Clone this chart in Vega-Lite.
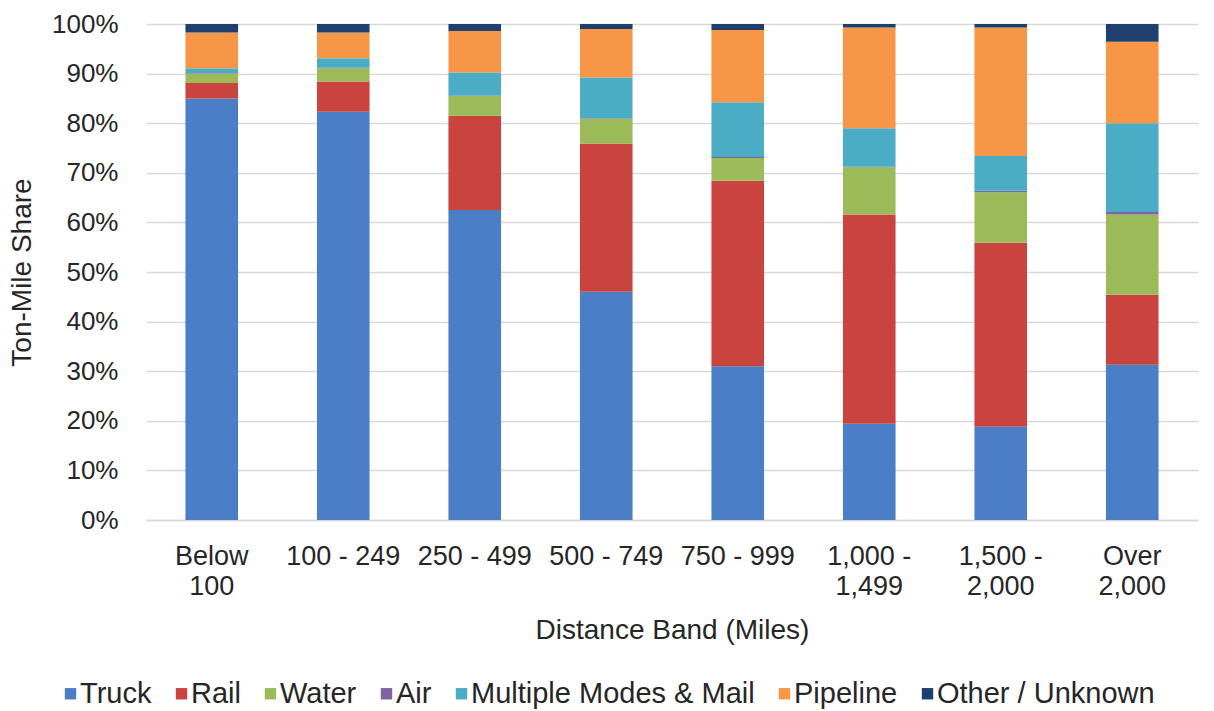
{
  "$schema": "https://vega.github.io/schema/vega-lite/v6.json",
  "autosize": "none",
  "width": 1052,
  "height": 496,
  "padding": {"left": 146, "top": 24, "right": 16, "bottom": 191},
  "background": "white",
  "config": {
    "view": {"stroke": null},
    "font": "Liberation Sans",
    "axis": {"labelColor": "#262626", "titleColor": "#262626", "labelFont": "Liberation Sans", "titleFont": "Liberation Sans", "titleFontWeight": "normal"},
    "legend": {"labelColor": "#262626", "labelFont": "Liberation Sans"}
  },
  "data": {
    "values": [
      {"band": "Below 100", "mode": "Truck", "share": 85.0},
      {"band": "Below 100", "mode": "Rail", "share": 3.1},
      {"band": "Below 100", "mode": "Water", "share": 1.9},
      {"band": "Below 100", "mode": "Air", "share": 0.1},
      {"band": "Below 100", "mode": "Multiple Modes & Mail", "share": 1.0},
      {"band": "Below 100", "mode": "Pipeline", "share": 7.2},
      {"band": "Below 100", "mode": "Other / Unknown", "share": 1.7},
      {"band": "100 - 249", "mode": "Truck", "share": 82.3},
      {"band": "100 - 249", "mode": "Rail", "share": 6.1},
      {"band": "100 - 249", "mode": "Water", "share": 2.7},
      {"band": "100 - 249", "mode": "Air", "share": 0.1},
      {"band": "100 - 249", "mode": "Multiple Modes & Mail", "share": 1.9},
      {"band": "100 - 249", "mode": "Pipeline", "share": 5.2},
      {"band": "100 - 249", "mode": "Other / Unknown", "share": 1.7},
      {"band": "250 - 499", "mode": "Truck", "share": 62.5},
      {"band": "250 - 499", "mode": "Rail", "share": 19.0},
      {"band": "250 - 499", "mode": "Water", "share": 4.0},
      {"band": "250 - 499", "mode": "Air", "share": 0.1},
      {"band": "250 - 499", "mode": "Multiple Modes & Mail", "share": 4.6},
      {"band": "250 - 499", "mode": "Pipeline", "share": 8.4},
      {"band": "250 - 499", "mode": "Other / Unknown", "share": 1.4},
      {"band": "500 - 749", "mode": "Truck", "share": 46.0},
      {"band": "500 - 749", "mode": "Rail", "share": 29.9},
      {"band": "500 - 749", "mode": "Water", "share": 5.0},
      {"band": "500 - 749", "mode": "Air", "share": 0.1},
      {"band": "500 - 749", "mode": "Multiple Modes & Mail", "share": 8.2},
      {"band": "500 - 749", "mode": "Pipeline", "share": 9.8},
      {"band": "500 - 749", "mode": "Other / Unknown", "share": 1.0},
      {"band": "750 - 999", "mode": "Truck", "share": 31.0},
      {"band": "750 - 999", "mode": "Rail", "share": 37.4},
      {"band": "750 - 999", "mode": "Water", "share": 4.6},
      {"band": "750 - 999", "mode": "Air", "share": 0.2},
      {"band": "750 - 999", "mode": "Multiple Modes & Mail", "share": 11.0},
      {"band": "750 - 999", "mode": "Pipeline", "share": 14.6},
      {"band": "750 - 999", "mode": "Other / Unknown", "share": 1.2},
      {"band": "1,000 - 1,499", "mode": "Truck", "share": 19.4},
      {"band": "1,000 - 1,499", "mode": "Rail", "share": 42.2},
      {"band": "1,000 - 1,499", "mode": "Water", "share": 9.5},
      {"band": "1,000 - 1,499", "mode": "Air", "share": 0.1},
      {"band": "1,000 - 1,499", "mode": "Multiple Modes & Mail", "share": 7.8},
      {"band": "1,000 - 1,499", "mode": "Pipeline", "share": 20.3},
      {"band": "1,000 - 1,499", "mode": "Other / Unknown", "share": 0.7},
      {"band": "1,500 - 2,000", "mode": "Truck", "share": 18.8},
      {"band": "1,500 - 2,000", "mode": "Rail", "share": 37.1},
      {"band": "1,500 - 2,000", "mode": "Water", "share": 10.2},
      {"band": "1,500 - 2,000", "mode": "Air", "share": 0.3},
      {"band": "1,500 - 2,000", "mode": "Multiple Modes & Mail", "share": 7.0},
      {"band": "1,500 - 2,000", "mode": "Pipeline", "share": 25.9},
      {"band": "1,500 - 2,000", "mode": "Other / Unknown", "share": 0.7},
      {"band": "Over 2,000", "mode": "Truck", "share": 31.3},
      {"band": "Over 2,000", "mode": "Rail", "share": 14.1},
      {"band": "Over 2,000", "mode": "Water", "share": 16.2},
      {"band": "Over 2,000", "mode": "Air", "share": 0.5},
      {"band": "Over 2,000", "mode": "Multiple Modes & Mail", "share": 17.9},
      {"band": "Over 2,000", "mode": "Pipeline", "share": 16.4},
      {"band": "Over 2,000", "mode": "Other / Unknown", "share": 3.6}
    ]
  },
  "transform": [
    {"calculate": "indexof(['Truck', 'Rail', 'Water', 'Air', 'Multiple Modes & Mail', 'Pipeline', 'Other / Unknown'], datum.mode)", "as": "stackOrder"}
  ],
  "mark": {"type": "bar"},
  "encoding": {
    "x": {
      "field": "band",
      "type": "nominal",
      "sort": ["Below 100", "100 - 249", "250 - 499", "500 - 749", "750 - 999", "1,000 - 1,499", "1,500 - 2,000", "Over 2,000"],
      "scale": {"paddingInner": 0.6, "paddingOuter": 0.3},
      "axis": {
        "title": "Distance Band (Miles)",
        "titleFontSize": 28,
        "titlePadding": 17,
        "labelFontSize": 27,
        "labelAngle": 0,
        "labelPadding": 23,
        "labelLimit": 0,
        "labelLineHeight": 30,
        "labelBaseline": "top",
        "labelExpr": "datum.value == 'Below 100' ? ['Below', '100'] : datum.value == '1,000 - 1,499' ? ['1,000 -', '1,499'] : datum.value == '1,500 - 2,000' ? ['1,500 -', '2,000'] : datum.value == 'Over 2,000' ? ['Over', '2,000'] : datum.value",
        "ticks": false,
        "domain": true,
        "domainColor": "#d9d9d9",
        "domainWidth": 1.5,
        "grid": false
      }
    },
    "y": {
      "field": "share",
      "type": "quantitative",
      "stack": "zero",
      "scale": {"domain": [0, 100], "nice": false},
      "axis": {
        "title": "Ton-Mile Share",
        "titleFontSize": 28,
        "titlePadding": 15,
        "labelFontSize": 26,
        "labelPadding": 28,
        "values": [0, 10, 20, 30, 40, 50, 60, 70, 80, 90, 100],
        "labelExpr": "datum.value + '%'",
        "ticks": false,
        "domain": false,
        "grid": true,
        "gridColor": "#d9d9d9",
        "gridWidth": 1.5
      }
    },
    "order": {"field": "stackOrder", "type": "quantitative", "sort": "ascending"},
    "color": {
      "field": "mode",
      "type": "nominal",
      "sort": ["Truck", "Rail", "Water", "Air", "Multiple Modes & Mail", "Pipeline", "Other / Unknown"],
      "scale": {
        "domain": ["Truck", "Rail", "Water", "Air", "Multiple Modes & Mail", "Pipeline", "Other / Unknown"],
        "range": ["#4A7EC6", "#C9433F", "#9BBB59", "#8064A2", "#4BACC6", "#F79646", "#1F3F6E"]
      },
      "legend": {
        "title": null,
        "orient": "none",
        "legendX": -90,
        "legendY": 655,
        "direction": "horizontal",
        "columns": 7,
        "columnPadding": 15,
        "symbolType": "square",
        "symbolSize": 130,
        "symbolStrokeWidth": 0,
        "labelFontSize": 29,
        "labelOffset": -5,
        "labelLimit": 0,
        "padding": 0
      }
    }
  }
}
